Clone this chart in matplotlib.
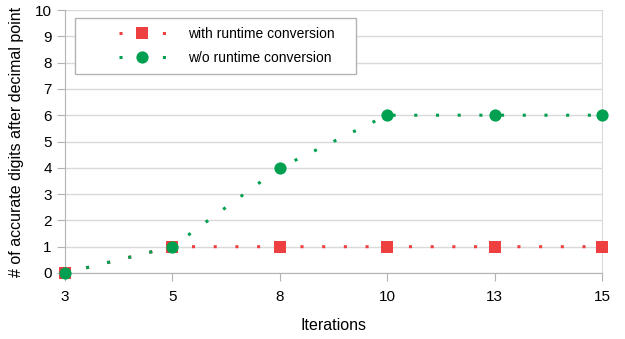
import matplotlib.pyplot as plt
from matplotlib.legend_handler import HandlerLine2D

plt.rcParams['font.family'] = ['Liberation Sans', 'DejaVu Sans']

# data
iterations = ['3', '5', '8', '10', '13', '15']
with_conv = [0, 1, 1, 1, 1, 1]
without_conv = [0, 1, 4, 6, 6, 6]

red = '#ee4040'
green = '#00a050'
grid_c = '#d9d9d9'
spine_c = '#b3b3b3'


class ShiftHandler(HandlerLine2D):
    # legend symbol sits in the right part of the handle box
    def create_artists(self, legend, orig_handle, xdescent, ydescent,
                       width, height, fontsize, trans):
        shift = 0.42 * width
        return super().create_artists(legend, orig_handle, xdescent - shift,
                                      ydescent, width - shift, height,
                                      fontsize, trans)


fig = plt.figure(figsize=(6.25, 3.39), dpi=100)
ax = fig.add_axes([65/625, 1-273/339, (602-65)/625, (273-10)/339])

xs = range(len(iterations))
dots = (0, (1, 6.1))
l1, = ax.plot(xs, with_conv, color=red, lw=2.2, linestyle=dots, marker='s',
              ms=8.6, mew=0, clip_on=False, zorder=3,
              label='with runtime conversion')
l2, = ax.plot(xs, without_conv, color=green, lw=2.2, linestyle=dots, marker='o',
              ms=8.8, mew=0, clip_on=False, zorder=4,
              label='w/o runtime conversion')

ax.set_xlim(0, len(iterations) - 1)
ax.set_ylim(0, 10)
ax.set_xticks(list(xs))
ax.set_xticklabels(iterations)
ax.set_yticks(range(0, 11))

ax.grid(axis='y', color=grid_c, lw=1)
ax.set_axisbelow(True)
ax.spines['top'].set_visible(False)
ax.spines['right'].set_color(grid_c)
ax.spines['left'].set_color(spine_c)
ax.spines['bottom'].set_color(spine_c)
ax.tick_params(colors=spine_c, labelcolor='black', labelsize=11, length=6)
ax.tick_params(axis='x', pad=6)

ax.set_xlabel('Iterations', fontsize=11.5, labelpad=10)
ax.set_ylabel('# of accurate digits after decimal point', fontsize=11.5, labelpad=8)

leg = ax.legend(handles=[l1, l2],
                labels=['with runtime conversion   ', 'w/o runtime conversion   '],
                handler_map={l1: ShiftHandler(), l2: ShiftHandler()},
                loc='upper left', bbox_to_anchor=(0.019, 0.97), fontsize=10,
                fancybox=False, edgecolor='#b3b3b3', framealpha=1,
                handlelength=5.9, handletextpad=1.6, borderpad=0.65,
                labelspacing=0.7, borderaxespad=0)
leg.get_frame().set_linewidth(1)

fig.savefig('out.png', dpi=100)
